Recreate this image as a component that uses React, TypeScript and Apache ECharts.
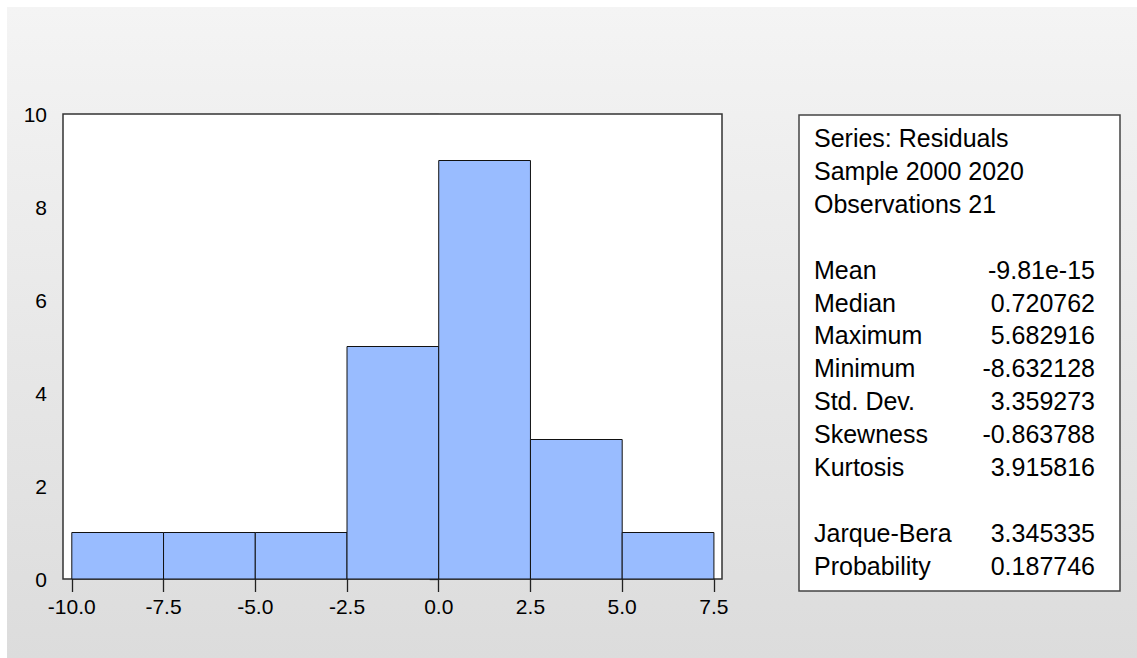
import React, { useEffect, useRef } from "react";
import * as echarts from "echarts";

const binStarts = [-10, -7.5, -5, -2.5, 0, 2.5, 5];
const binEnds = [-7.5, -5, -2.5, 0, 2.5, 5, 7.5];
const counts = [1, 1, 1, 5, 9, 3, 1];
const xTickValues = [-10, -7.5, -5, -2.5, 0, 2.5, 5, 7.5];

const headerLines = ["Series: Residuals", "Sample 2000 2020", "Observations 21"];
const statLabels = ["Mean", "Median", "Maximum", "Minimum", "Std. Dev.", "Skewness", "Kurtosis"];
const statValues = ["-9.81e-15", "0.720762", "5.682916", "-8.632128", "3.359273", "-0.863788", "3.915816"];
const testLabels = ["Jarque-Bera", "Probability"];
const testValues = ["3.345335", "0.187746"];

const FONT = "'Liberation Sans', Arial, sans-serif";

export default function App() {
  const ref = useRef<HTMLDivElement>(null);
  useEffect(() => {
    document.body.style.margin = "0";
    const chart = echarts.init(ref.current!, undefined, { renderer: "svg" });
    const data = binStarts.map((s, i) => [s, binEnds[i], counts[i]]);

    const lineY = (idx: number) => 138 + 32.9 * idx;
    const texts: any[] = [];
    headerLines.forEach((t, i) => {
      texts.push({
        type: "text", x: 814, y: lineY(i), z: 5,
        style: { text: t, font: `25px ${FONT}`, fill: "#000", textAlign: "left", textVerticalAlign: "middle" },
      });
    });
    const addRow = (label: string, value: string, idx: number) => {
      texts.push({
        type: "text", x: 814, y: lineY(idx), z: 5,
        style: { text: label, font: `25px ${FONT}`, fill: "#000", textAlign: "left", textVerticalAlign: "middle" },
      });
      texts.push({
        type: "text", x: 1095, y: lineY(idx), z: 5,
        style: { text: value, font: `25px ${FONT}`, fill: "#000", textAlign: "right", textVerticalAlign: "middle" },
      });
    };
    statLabels.forEach((l, i) => addRow(l, statValues[i], 4 + i));
    testLabels.forEach((l, i) => addRow(l, testValues[i], 12 + i));

    chart.setOption({
      animation: false,
      backgroundColor: "#ffffff",
      grid: {
        left: 63, top: 114, width: 659, height: 465,
        show: true, backgroundColor: "#ffffff", borderColor: "#333", borderWidth: 1.5, z: 1,
      },
      xAxis: {
        type: "value", min: -10.24, max: 7.72,
        splitLine: { show: false },
        axisLine: { show: false },
        axisTick: { show: true, length: 13, lineStyle: { color: "#222", width: 1.3 }, customValues: xTickValues },
        axisLabel: {
          customValues: xTickValues, margin: 17, fontSize: 21, color: "#000", fontFamily: FONT,
          formatter: (v: number) => v.toFixed(1),
        },
      },
      yAxis: {
        type: "value", min: 0, max: 10, interval: 2,
        splitLine: { show: false },
        axisLine: { show: false },
        axisTick: { show: true, length: 9, lineStyle: { color: "#222", width: 1.3 } },
        axisLabel: { margin: 16, fontSize: 21, color: "#000", fontFamily: FONT },
      },
      series: [
        {
          type: "custom",
          z: 3,
          data,
          encode: { x: [0, 1], y: 2 },
          renderItem: (params: any, api: any) => {
            const x0 = api.value(0), x1 = api.value(1), c = api.value(2);
            const p0 = api.coord([x0, c]);
            const p1 = api.coord([x1, 0]);
            return {
              type: "rect",
              shape: { x: p0[0], y: p0[1], width: p1[0] - p0[0], height: p1[1] - p0[1] },
              style: { fill: "#99bcff", stroke: "#111", lineWidth: 1 },
            };
          },
        },
      ],
      graphic: [
        {
          type: "rect", z: -10, silent: true,
          shape: { x: 7, y: 7, width: 1130, height: 651 },
          style: {
            fill: new echarts.graphic.LinearGradient(0, 0, 0, 1, [
              { offset: 0, color: "#f4f4f4" },
              { offset: 1, color: "#dcdcdc" },
            ]),
          },
        },
        {
          type: "rect", z: 4,
          shape: { x: 799, y: 115, width: 321, height: 476 },
          style: { fill: "#fff", stroke: "#444", lineWidth: 1.5 },
        },
        ...texts,
      ],
    });
    return () => chart.dispose();
  }, []);
  return <div ref={ref} style={{ position: "fixed", left: 0, top: 0, width: 1137, height: 658 }} />;
}
